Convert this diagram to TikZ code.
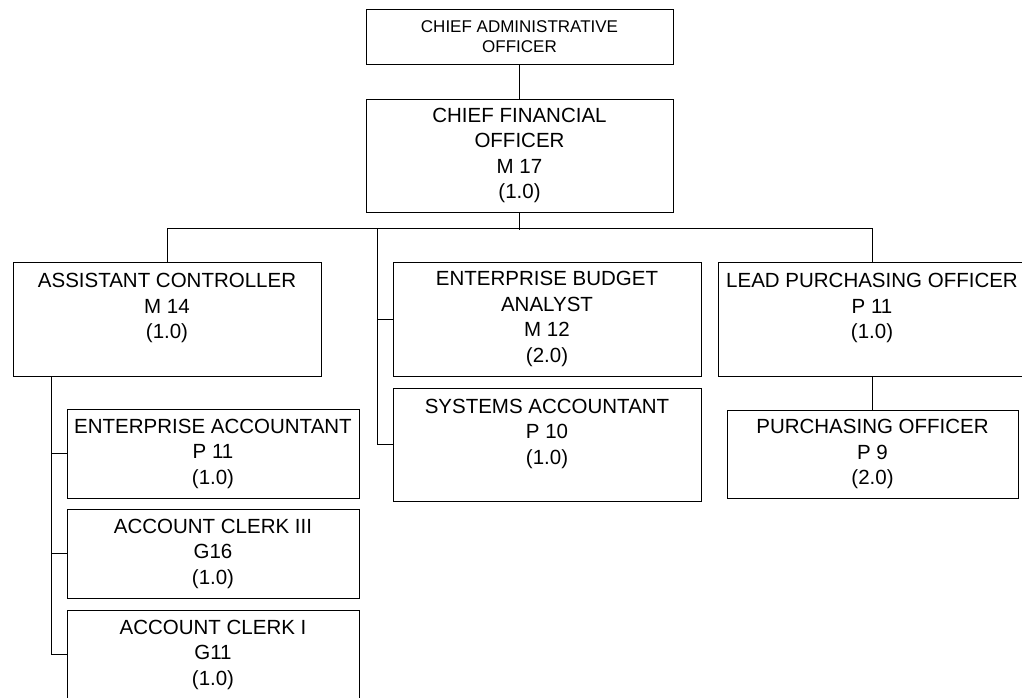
\documentclass[tikz,border=0pt]{standalone}
\usepackage{fontspec}
\setmainfont{Liberation Sans}
\begin{document}
\begin{tikzpicture}[x=1pt,y=-1pt,
  box/.style={draw=black, line width=1pt, fill=white, inner sep=0pt, align=center,
    font=\fontsize{20.5}{25.5}\selectfont},
  bigbox/.style={box, minimum width=308pt, minimum height=114pt},
  smallbox/.style={box, minimum width=292pt, minimum height=89pt},
  wire/.style={draw=black, line width=1pt}]
\useasboundingbox (0,0) rectangle (1022,697);
\clip (0,0) rectangle (1022,697);
\node[box, minimum width=307pt, minimum height=55pt, font=\fontsize{17}{20}\selectfont] (cao) at (519.5,36.5) {CHIEF ADMINISTRATIVE\\OFFICER};
\node[box, minimum width=307pt, minimum height=113pt] (cfo) at (519.5,155.5) {CHIEF FINANCIAL\\OFFICER\\M 17\\(1.0)};
\node[bigbox] (ac) at (167,319) {ASSISTANT CONTROLLER\\M 14\\(1.0)\\\mbox{}};
\node[bigbox] (eba) at (547,319) {ENTERPRISE BUDGET\\ANALYST\\M 12\\(2.0)};
\node[bigbox, minimum height=113pt] (sa) at (547,444.5) {SYSTEMS ACCOUNTANT\\P 10\\(1.0)\\\mbox{}};
\node[bigbox] (lpo) at (872,319) {LEAD PURCHASING OFFICER\\P 11\\(1.0)\\\mbox{}};
\node[box, minimum width=291pt, minimum height=88pt] (po) at (872.5,454) {PURCHASING OFFICER\\P 9\\(2.0)};
\node[smallbox] (ea) at (213,453.5) {ENTERPRISE ACCOUNTANT\\P 11\\(1.0)};
\node[smallbox] (ac3) at (213,553.5) {ACCOUNT CLERK III\\G16\\(1.0)};
\node[smallbox] (ac1) at (213,654.5) {ACCOUNT CLERK I\\G11\\(1.0)};
\coordinate (j) at (377,229);
\coordinate (k) at (51,376);
\draw[wire] (cao.south) -- (cfo.north);
\draw[wire] (cfo.south) -- ++(0,17);
\draw[wire] (ac.north) -- ++(0,-33) -| (lpo.north);
\draw[wire] (j) |- (eba.west);
\draw[wire] (j) |- (sa.west);
\draw[wire] (k) |- (ea.west);
\draw[wire] (k) |- (ac3.west);
\draw[wire] (k) |- (ac1.west);
\draw[wire] (lpo.south) -- (lpo.south |- po.north);
\end{tikzpicture}
\end{document}
